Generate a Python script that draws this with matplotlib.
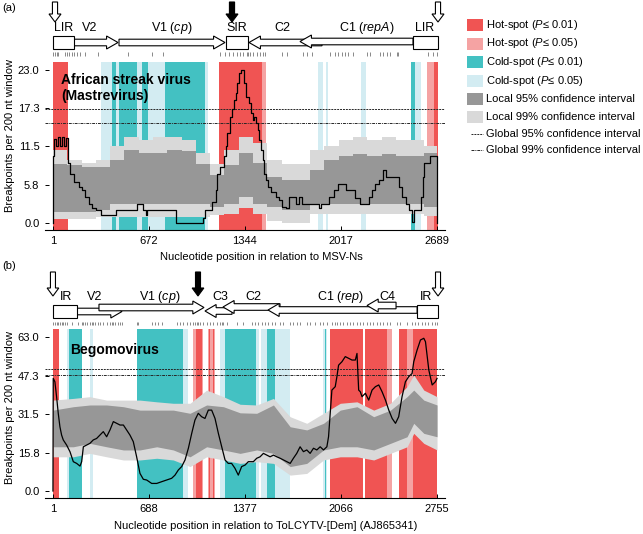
import matplotlib
matplotlib.use("Agg")
import matplotlib.pyplot as plt
from matplotlib.patches import Polygon, Rectangle

plt.rcParams["font.family"] = ["Liberation Sans", "DejaVu Sans"]
plt.rcParams["mathtext.fontset"] = "custom"
plt.rcParams["mathtext.rm"] = "Liberation Sans"
plt.rcParams["mathtext.it"] = "Liberation Sans:italic"
plt.rcParams["mathtext.bf"] = "Liberation Sans:bold"

W, H = 643, 534

COLORS = {
    "hot1": "#f05453",
    "hot5": "#f5a3a3",
    "cold1": "#43c1c2",
    "cold5": "#d3ecf2",
    "ci95": "#979797",
    "ci99": "#d9d9d9",
}

# ---------------- panel (a): African streak virus ----------------
a_xticks = [1, 672, 1344, 2017, 2689]
a_yticks = [0.0, 5.75, 11.5, 17.25, 23.0]
a_yticklabels = ["0.0", "5.8", "11.5", "17.3", "23.0"]
a_global = [17.1, 15.1]

a_bands = [
    (1, 107, "hot1"), (334, 411, "cold5"), (411, 441, "cold1"), (441, 464, "cold5"),
    (464, 586, "cold1"), (586, 625, "cold5"), (625, 667, "cold1"), (667, 784, "cold5"),
    (784, 1064, "cold1"), (1064, 1087, "cold5"), (1164, 1461, "hot1"), (1461, 1491, "hot5"),
    (1853, 1888, "cold5"), (1911, 1927, "cold5"), (2154, 2191, "cold5"),
    (2504, 2534, "cold1"), (2534, 2574, "cold5"), (2620, 2667, "hot5"), (2667, 2697, "hot1"),
]

a_ci_pos = [1, 101, 201, 301, 401, 501, 601, 701, 801, 901, 1001, 1101, 1201, 1301,
            1401, 1501, 1601, 1701, 1801, 1901, 2001, 2101, 2201, 2301, 2401, 2501, 2601, 2689]
a_up95 = [8.9, 8.7, 8.4, 8.4, 9.4, 11.0, 10.5, 10.5, 11.0, 10.8, 8.9, 7.2, 8.7, 10.5,
          9.0, 6.9, 6.4, 6.4, 8.0, 9.4, 10.0, 10.3, 10.0, 10.3, 10.0, 10.0, 10.5, 10.5]
a_lo95 = [1.7, 1.7, 1.7, 2.0, 2.9, 2.9, 2.9, 2.9, 2.9, 2.9, 2.9, 2.4, 2.9, 3.9,
          2.9, 2.4, 1.9, 1.9, 2.9, 2.9, 2.9, 2.9, 2.9, 2.9, 2.9, 2.9, 2.4, 2.4]
a_up99 = [11.0, 9.5, 9.0, 9.4, 11.5, 13.0, 12.5, 13.0, 13.0, 12.5, 10.5, 8.9, 11.0, 13.0,
          12.0, 9.5, 8.9, 8.9, 11.0, 11.5, 12.5, 13.0, 12.5, 13.0, 12.5, 12.5, 11.5, 11.5]
a_lo99 = [0.6, 0.6, 0.6, 0.9, 0.9, 0.9, 0.9, 0.9, 0.9, 0.9, 0.9, 1.2, 1.4, 2.2,
          1.4, 0.3, 0.0, 0.0, 1.4, 1.4, 1.4, 1.4, 1.4, 1.4, 1.4, 1.4, 1.0, 1.0]

a_line_pos = [1, 2, 8, 20, 33, 47, 65, 80, 92, 104, 120, 150, 180, 205, 225, 250, 272, 300,
              340, 442, 591, 629, 650, 662, 860, 1053, 1068, 1115, 1140, 1152, 1170, 1195,
              1210, 1222, 1240, 1257, 1268, 1280, 1292, 1304, 1316, 1340, 1352, 1370, 1386,
              1398, 1410, 1422, 1433, 1445, 1457, 1468, 1480, 1492, 1503, 1530, 1560, 1585,
              1605, 1630, 1655, 1700, 1720, 1745, 1860, 1876, 1932, 1965, 1995, 2050, 2115,
              2150, 2214, 2235, 2255, 2285, 2310, 2330, 2420, 2445, 2470, 2490, 2512, 2530,
              2576, 2588, 2600, 2640, 2688, 2689]
a_line_val = [0.0, 10.0, 12.7, 11.5, 13.0, 11.5, 13.0, 11.5, 12.8, 9.0, 7.4, 6.2, 5.4, 4.9,
              3.9, 2.9, 2.2, 1.9, 1.2, 1.9, 2.9, 1.9, 1.2, 1.9, 0.0, 0.7, 1.9, 3.2, 4.9, 7.4,
              8.4, 10.0, 11.5, 13.5, 16.0, 17.2, 18.5, 19.5, 21.0, 22.5, 23.0, 21.0, 19.0,
              18.0, 16.5, 15.5, 16.0, 15.0, 14.0, 12.5, 11.0, 9.4, 7.4, 6.4, 5.4, 4.7, 3.9,
              3.4, 2.4, 2.2, 3.9, 2.9, 3.9, 2.9, 2.2, 2.9, 3.9, 4.9, 5.9, 4.9, 3.7, 2.9, 3.9,
              4.9, 5.9, 6.4, 7.9, 6.9, 5.4, 3.9, 2.9, 1.9, 0.2, 1.9, 3.9, 6.9, 9.0, 10.0, 0.0,
              0.0]

a_site_ticks = [3, 15, 27, 38, 85, 97, 115, 132, 148, 167, 190, 225, 318, 528, 692, 773,
                1170, 1205, 1235, 1263, 1287, 1310, 1334, 1357, 1368, 1380, 1403, 1427, 1450,
                1473, 1485, 1602, 1637, 1753, 1777, 1812, 1940, 1975, 1998, 2021, 2045, 2068,
                2103, 2197, 2220, 2290, 2313, 2337, 2360, 2407, 2418, 2628, 2663, 2687]

# genome map: (kind, start, end, centre y in px)
a_genes = [
    ("box", 1, 150, 42.5), ("right", 150, 456, 42.5), ("right", 463, 1205, 42.5),
    ("box", 1212, 1366, 42.5), ("left", 1884, 1373, 42.5), ("left", 2521, 1730, 41.5),
    ("box", 2521, 2696, 42.5),
]
a_gene_labels = [("LIR", 78), ("V2", 260), ("V1 ($\\it{cp}$)", 834), ("SIR", 1289),
                 ("C2", 1604), ("C1 ($\\it{repA}$)", 2199), ("LIR", 2605)]
a_markers = [(15, False), (1254, True), (2696, False)]

# ---------------- panel (b): Begomovirus ----------------
b_xticks = [1, 688, 1377, 2066, 2755]
b_yticks = [0.0, 15.75, 31.5, 47.25, 63.0]
b_yticklabels = ["0.0", "15.8", "31.5", "47.3", "63.0"]
b_global = [49.8, 47.5]

b_bands = [
    (1, 46, "hot1"), (99, 118, "cold5"), (118, 207, "cold1"), (266, 290, "cold5"),
    (601, 936, "cold1"), (936, 972, "cold5"), (1007, 1026, "hot5"), (1026, 1067, "hot1"),
    (1067, 1079, "hot5"), (1115, 1160, "hot5"), (1122, 1127, "hot1"), (1139, 1144, "hot1"),
    (1151, 1156, "hot1"), (1199, 1235, "cold5"), (1235, 1455, "cold1"), (1455, 1475, "cold5"),
    (1490, 1538, "cold5"), (1538, 1594, "cold1"), (1594, 1700, "cold5"), (1940, 1964, "cold5"),
    (1950, 1956, "cold1"), (1987, 2226, "hot1"), (2238, 2394, "hot1"), (2394, 2430, "hot5"),
    (2485, 2540, "hot1"), (2540, 2580, "hot5"), (2580, 2757, "hot1"),
]

b_ci_pos = [1, 147, 266, 386, 506, 625, 745, 864, 984, 1103, 1223, 1343, 1462, 1582,
            1702, 1821, 1941, 2061, 2181, 2301, 2421, 2540, 2588, 2660, 2755]
b_up95 = [33.1, 34.5, 35.2, 35.2, 34.5, 33.1, 33.1, 33.1, 31.8, 35.2, 34.5, 32.0, 31.8,
          35.2, 26.3, 25.0, 27.7, 33.1, 34.5, 30.4, 33.1, 38.6, 41.3, 37.2, 35.2]
b_lo95 = [18.1, 18.1, 19.5, 18.1, 16.8, 16.8, 18.1, 16.8, 14.0, 18.1, 16.8, 15.4, 16.8,
          15.4, 10.0, 11.3, 16.8, 18.1, 18.1, 16.8, 19.5, 22.2, 27.7, 23.6, 22.2]
b_up99 = [37.2, 37.9, 38.6, 37.2, 37.2, 37.2, 36.5, 35.9, 35.9, 41.3, 38.6, 35.5, 35.2,
          37.9, 30.4, 27.7, 31.8, 35.9, 36.5, 33.1, 35.9, 42.7, 47.5, 41.3, 38.6]
b_lo99 = [14.0, 14.0, 15.4, 14.0, 12.7, 12.7, 13.4, 12.7, 10.0, 14.0, 12.7, 11.3, 12.0,
          11.3, 6.5, 7.2, 12.7, 14.0, 14.0, 12.7, 15.4, 18.1, 23.6, 19.5, 16.8]

b_line_pos = [1, 3, 15, 27, 39, 51, 63, 75, 99, 123, 147, 171, 195, 207, 219, 242, 266, 290,
              314, 338, 362, 386, 410, 434, 458, 482, 506, 529, 553, 577, 601, 625, 649, 673,
              709, 745, 780, 816, 852, 876, 900, 924, 948, 972, 996, 1019, 1043, 1067, 1091,
              1115, 1139, 1163, 1187, 1211, 1235, 1258, 1282, 1306, 1330, 1354, 1378, 1402,
              1438, 1462, 1486, 1510, 1534, 1558, 1582, 1606, 1630, 1654, 1678, 1702, 1725,
              1749, 1773, 1797, 1821, 1845, 1869, 1893, 1917, 1941, 1965, 1977, 1989, 2001,
              2025, 2037, 2049, 2073, 2097, 2121, 2145, 2169, 2181, 2193, 2205, 2217, 2241,
              2265, 2289, 2313, 2337, 2361, 2385, 2409, 2433, 2457, 2480, 2504, 2528, 2552,
              2576, 2588, 2612, 2636, 2660, 2672, 2696, 2720, 2743, 2755]
b_line_val = [0.0, 46.1, 44.7, 38.6, 31.8, 26.3, 22.9, 20.9, 18.8, 16.1, 12.0, 11.3, 10.2,
              12.0, 18.1, 18.8, 19.5, 20.9, 21.5, 22.9, 24.3, 22.2, 25.0, 28.4, 27.7, 27.0,
              27.0, 25.0, 22.9, 20.2, 14.0, 7.2, 4.8, 4.5, 3.1, 3.1, 3.8, 4.5, 5.2, 6.5, 8.6,
              10.0, 12.7, 17.5, 23.6, 29.0, 31.8, 30.4, 29.7, 33.1, 33.1, 29.7, 23.6, 18.1,
              12.7, 11.3, 11.3, 9.3, 6.5, 10.0, 10.6, 12.0, 12.0, 13.4, 14.0, 15.4, 14.7, 14.0,
              14.7, 14.0, 13.4, 12.7, 12.0, 11.3, 13.4, 15.4, 18.1, 16.1, 16.8, 15.4, 17.5,
              16.8, 18.1, 16.8, 18.1, 22.2, 31.8, 41.3, 42.7, 46.8, 51.5, 52.9, 55.0, 54.3,
              53.6, 53.6, 56.3, 41.3, 40.6, 38.6, 40.0, 37.2, 41.3, 42.7, 43.4, 40.6, 37.2,
              33.1, 29.7, 27.7, 30.4, 38.6, 44.7, 46.8, 48.1, 52.9, 57.7, 61.8, 62.5, 61.1,
              49.5, 43.4, 44.7, 46.1]

b_site_ticks = [3, 15, 27, 39, 51, 63, 75, 87, 99, 135, 183, 207, 219, 231, 242, 266, 278,
                290, 302, 326, 338, 362, 386, 410, 422, 434, 446, 470, 482, 494, 601, 613, 709,
                733, 756, 780, 888, 912, 936, 960, 984, 1007, 1019, 1031, 1043, 1055, 1079,
                1103, 1127, 1151, 1175, 1199, 1211, 1223, 1247, 1319, 1367, 1426, 1450, 1474,
                1498, 1522, 1545, 1569, 1593, 1629, 1653, 1701, 1725, 1749, 1773, 1820, 1844,
                1880, 1916, 1940, 1964, 2000, 2023, 2035, 2059, 2083, 2107, 2131, 2155, 2179,
                2203, 2227, 2251, 2275, 2298, 2322, 2346, 2370, 2394, 2418, 2466, 2490, 2537,
                2573, 2597, 2621, 2645, 2669, 2693, 2717, 2741, 2753]

b_genes = [
    ("box", 1, 173, 311), ("right", 173, 496, 311.5), ("right", 331, 1084, 307.5),
    ("left", 1285, 1091, 311), ("left", 1629, 1220, 307), ("left", 2612, 1543, 310),
    ("left", 2461, 2253, 305.5), ("box", 2612, 2762, 311),
]
b_gene_labels = [("IR", 94), ("V2", 302), ("V1 ($\\it{cp}$)", 768), ("C3", 1199),
                 ("C2", 1436), ("C1 ($\\it{rep}$)", 2060), ("C4", 2397), ("IR", 2676)]
b_markers = [(1, False), (1041, True), (2762, False)]

legend_entries = [
    ("patch", "hot1", "Hot-spot ($P$≤ 0.01)"),
    ("patch", "hot5", "Hot-spot ($P$≤ 0.05)"),
    ("patch", "cold1", "Cold-spot ($P$≤ 0.01)"),
    ("patch", "cold5", "Cold-spot ($P$≤ 0.05)"),
    ("patch", "ci95", "Local 95% confidence interval"),
    ("patch", "ci99", "Local 99% confidence interval"),
    ("line", (0, (2, 1)), "Global 95% confidence interval"),
    ("line", (0, (3, 1, 1, 1)), "Global 99% confidence interval"),
]
legend_rows = [25, 43.5, 62, 80.5, 99, 117, 134, 150]


def px_rect(x0, y0, x1, y1):
    return [x0 / W, 1 - y1 / H, (x1 - x0) / W, (y1 - y0) / H]


def gene_arrow(ax, tail, tip, yc, body=3.3, head=6.5, head_len=80):
    sign = 1 if tip > tail else -1
    base = tip - sign * head_len
    pts = [(tail, yc - body), (base, yc - body), (base, yc - head), (tip, yc),
           (base, yc + head), (base, yc + body), (tail, yc + body)]
    ax.add_patch(Polygon(pts, closed=True, fc="white", ec="black", lw=0.8, zorder=2))


def down_arrow(ax, x, y0, y1, filled):
    sw, hw, hh = 36, 84, 8
    pts = [(x - sw / 2, y0), (x + sw / 2, y0), (x + sw / 2, y1 - hh), (x + hw / 2, y1 - hh),
           (x, y1), (x - hw / 2, y1 - hh), (x - sw / 2, y1 - hh)]
    ax.add_patch(Polygon(pts, closed=True, fc="black" if filled else "white",
                         ec="black", lw=0.8))


def draw_map(ax, xlim, ytop, ybot, genes, labels, markers, ticks, label_y, tick_y, arrow_y):
    ax.set_xlim(*xlim)
    ax.set_ylim(ybot, ytop)
    ax.axis("off")
    for kind, s, e, yc in genes:
        if kind == "box":
            ax.add_patch(Rectangle((s, yc - 6.5), e - s, 13, fc="white", ec="black",
                                   lw=0.8, zorder=3))
        else:
            gene_arrow(ax, s, e, yc)
    for txt, x in labels:
        ax.text(x, label_y, txt, ha="center", va="center", fontsize=9)
    for x, filled in markers:
        down_arrow(ax, x, arrow_y[0], arrow_y[1], filled)
    ax.vlines(ticks, tick_y, tick_y + 3.5, color="0.35", lw=0.5)


def draw_panel(ax, xlim, ylim, bands, ci, line, glob, xticks, yticks, yticklabels, steps):
    ci_pos, lo99, up99, lo95, up95 = ci
    for s, e, k in bands:
        ax.axvspan(s, e, color=COLORS[k], lw=0, zorder=0)
    step = "post" if steps else None
    ax.fill_between(ci_pos, lo99, up99, step=step, color=COLORS["ci99"], lw=0, zorder=1)
    ax.fill_between(ci_pos, lo95, up95, step=step, color=COLORS["ci95"], lw=0, zorder=2)
    ax.axhline(glob[0], color="0.15", lw=0.7, ls=(0, (2, 1)), zorder=3)
    ax.axhline(glob[1], color="0.15", lw=0.7, ls=(0, (3, 1, 1, 1)), zorder=3)
    ax.plot(line[0], line[1], color="black", lw=0.9, zorder=4,
            drawstyle="steps-post" if steps else "default")
    ax.set_xlim(*xlim)
    ax.set_ylim(*ylim)
    for side in ("left", "top", "right"):
        ax.spines[side].set_visible(False)
    ax.spines["bottom"].set_linewidth(0.8)
    ax.set_xticks(xticks)
    ax.set_xticklabels([str(t) for t in xticks])
    ax.set_yticks(yticks)
    ax.set_yticklabels(yticklabels)
    ax.tick_params(direction="in", length=3, width=0.7, labelsize=8, pad=4)


fig = plt.figure(figsize=(W / 100, H / 100), dpi=100)

# panel (a)
a_xlim = (-55, 2745)
ax_a = fig.add_axes(px_rect(45, 62, 445, 230))
draw_panel(ax_a, a_xlim, (-1.05, 24.2), a_bands,
           (a_ci_pos, a_lo99, a_up99, a_lo95, a_up95), (a_line_pos, a_line_val),
           a_global, a_xticks, a_yticks, a_yticklabels, True)
map_a = fig.add_axes(px_rect(45, 0, 445, 60))
draw_map(map_a, a_xlim, 0, 60, a_genes, a_gene_labels, a_markers, a_site_ticks,
         28, 52, (2, 22))

# panel (b)
b_xlim = (-56, 2812)
ax_b = fig.add_axes(px_rect(45, 329, 445, 498))
draw_panel(ax_b, b_xlim, (-2.86, 66.3), b_bands,
           (b_ci_pos, b_lo99, b_up99, b_lo95, b_up95), (b_line_pos, b_line_val),
           b_global, b_xticks, b_yticks, b_yticklabels, False)
map_b = fig.add_axes(px_rect(45, 268, 445, 328))
draw_map(map_b, b_xlim, 268, 328, b_genes, b_gene_labels, b_markers, b_site_ticks,
         297, 322, (272, 296))

# texts
fig.text(2 / W, 1 - 8 / H, "(a)", fontsize=8, va="center")
fig.text(2 / W, 1 - 266 / H, "(b)", fontsize=8, va="center")
fig.text(61 / W, 1 - 73 / H, "African streak virus\n(Mastrevirus)", fontsize=10,
         fontweight="bold", va="top", linespacing=1.15)
fig.text(70 / W, 1 - 343 / H, "Begomovirus", fontsize=10, fontweight="bold", va="top")
fig.text(10 / W, 1 - 136 / H, "Breakpoints per 200 nt window", rotation=90,
         fontsize=8, ha="center", va="center")
fig.text(10 / W, 1 - 408 / H, "Breakpoints per 200 nt window", rotation=90,
         fontsize=8, ha="center", va="center")
fig.text(261 / W, 1 - 257 / H, "Nucleotide position in relation to MSV-Ns",
         fontsize=8, ha="center", va="center")
fig.text(266 / W, 1 - 526 / H, "Nucleotide position in relation to ToLCYTV-[Dem] (AJ865341)",
         fontsize=8, ha="center", va="center")

# legend
for (kind, key, label), yc in zip(legend_entries, legend_rows):
    if kind == "patch":
        fig.patches.append(Rectangle((467 / W, 1 - (yc + 6) / H), 16 / W, 12 / H,
                                     transform=fig.transFigure, fc=COLORS[key], lw=0))
    else:
        fig.lines.append(plt.Line2D([471 / W, 483 / W], [1 - yc / H, 1 - yc / H],
                                    transform=fig.transFigure, color="0.15", lw=0.7, ls=key))
    fig.text(486 / W, 1 - yc / H, label, fontsize=8, va="center")

fig.savefig("out.png", dpi=100)
